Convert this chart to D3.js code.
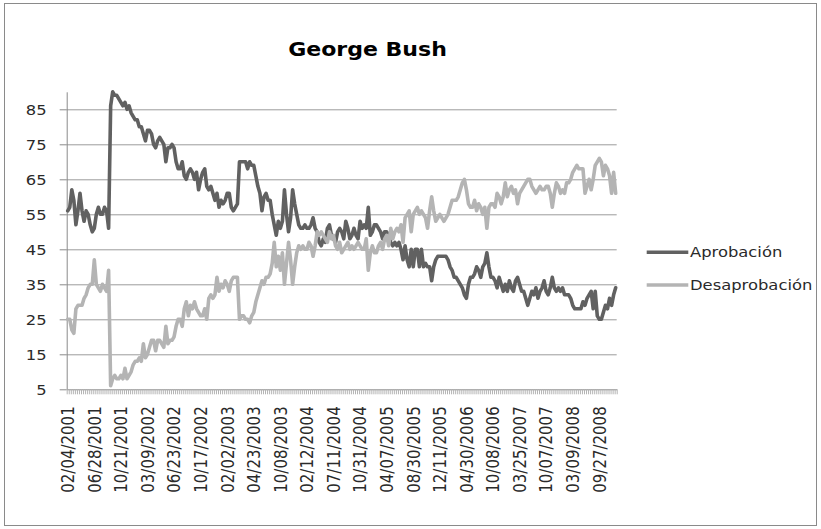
<!DOCTYPE html>
<html>
<head>
<meta charset="utf-8">
<script src="https://cdn.jsdelivr.net/npm/d3@7"></script>
<style>
  html, body { margin: 0; padding: 0; background: #fff; }
  svg { display: block; }
</style>
</head>
<body>
<svg id="chart" width="821" height="529"></svg>
<script>
// ---- data -------------------------------------------------------------
const chartTitle = "George Bush";
const seriesNames = ["Aprobación", "Desaprobación"];

// one label is shown every `labelStep` polls
const tickLabels = [
  "02/04/2001", "06/28/2001", "10/21/2001", "03/09/2002", "06/23/2002",
  "10/17/2002", "02/02/2003", "04/23/2003", "10/08/2003", "02/12/2004",
  "07/11/2004", "10/31/2004", "04/07/2005", "08/30/2005", "12/11/2005",
  "04/30/2006", "10/08/2006", "03/25/2007", "10/07/2007", "03/09/2008",
  "09/27/2008"
];
const labelStep = 13;

const yTicks = [5, 15, 25, 35, 45, 55, 65, 75, 85];

const aprobacion = [
  56, 57, 62, 59, 52, 56, 61, 56, 53, 56,
  55, 52, 50, 51, 55, 57, 55, 55, 57, 56,
  51, 86, 90, 89, 89, 88, 87, 86, 87, 85,
  86, 84, 83, 82, 82, 80, 80, 78, 76, 79,
  79, 78, 75, 74, 76, 77, 76, 75, 70, 74,
  74, 75, 74, 70, 68, 68, 70, 66, 65, 67,
  68, 67, 65, 67, 62, 65, 67, 68, 63, 62,
  63, 61, 59, 61, 57, 59, 58, 59, 61, 61,
  57, 56, 57, 58, 70, 70, 70, 70, 68, 70,
  69, 69, 66, 63, 61, 56, 60, 61, 59, 59,
  55, 52, 49, 53, 51, 53, 62, 55, 50, 54,
  62, 58, 55, 52, 51, 51, 52, 51, 51, 52,
  54, 51, 50, 47, 46, 48, 47, 51, 52, 49,
  48, 47, 50, 51, 50, 48, 53, 51, 48, 49,
  51, 49, 48, 53, 51, 52, 51, 57, 49, 50,
  52, 52, 51, 50, 48, 50, 50, 49, 47, 46,
  47, 46, 47, 45, 42, 46, 42, 40, 45, 40,
  45, 45, 40, 45, 40, 41, 40, 40, 36, 40,
  42, 43, 43, 43, 43, 43, 42, 40, 39, 37,
  37, 36, 35, 34, 32, 31, 35, 37, 37, 38,
  40, 39, 37, 40, 41, 44, 40, 37, 37, 36,
  34, 37, 35, 33, 35, 33, 36, 34, 33, 36,
  37, 35, 33, 33, 31, 29, 31, 33, 32, 34,
  31, 33, 34, 36, 33, 32, 34, 37, 34, 33,
  34, 33, 34, 32, 32, 32, 31, 29, 28, 28,
  28, 28, 30, 29, 31, 32, 33, 28, 33, 26,
  25, 25, 27, 29, 28, 31, 29, 32, 34
];

const desaprobacion = [
  25, 25, 22, 21, 28, 29, 29, 29, 31, 32,
  34, 35, 35, 42, 35, 34, 33, 35, 34, 33,
  39, 6, 8, 9, 8, 8, 9, 8, 11, 8,
  9, 10, 12, 13, 13, 14, 13, 18, 14, 15,
  17, 19, 19, 16, 19, 19, 18, 17, 23, 18,
  19, 19, 20, 23, 25, 25, 23, 28, 30, 26,
  29, 28, 30, 28, 27, 26, 26, 28, 25, 31,
  32, 31, 32, 37, 33, 35, 34, 36, 35, 33,
  36, 37, 37, 37, 25, 26, 26, 25, 25, 24,
  26, 27, 30, 32, 34, 36, 35, 37, 37, 38,
  41, 47, 40, 43, 39, 44, 35, 41, 47, 42,
  35, 40, 44, 46, 45, 46, 45, 45, 47, 46,
  43, 46, 50, 49, 50, 49, 48, 47, 50, 48,
  49, 46, 45, 47, 44, 45, 46, 47, 45, 46,
  45, 46, 47, 46, 45, 45, 48, 39, 44, 46,
  44, 44, 46, 47, 45, 48, 49, 46, 51, 48,
  50, 51, 50, 52, 47, 54, 55, 56, 50, 55,
  56, 57, 55, 56, 55, 54, 51, 56, 60, 56,
  53, 54, 55, 54, 53, 54, 55, 57, 59, 59,
  59, 60, 62, 64, 65, 62, 58, 57, 57, 59,
  56, 58, 57, 55, 57, 51, 57, 58, 58, 57,
  61, 60, 58, 60, 64, 60, 62, 63, 61, 62,
  58, 61, 62, 63, 64, 65, 65, 63, 62, 61,
  62, 63, 62, 62, 63, 63, 61, 57, 61, 64,
  63, 61, 62, 61, 64, 64, 65, 67, 68, 69,
  68, 68, 68, 61, 63, 65, 62, 65, 69, 70,
  71, 70, 66, 69, 68, 66, 61, 67, 61
];

// ---- layout -----------------------------------------------------------
const plot = { left: 66.7, right: 616.7, top: 91.8, bottom: 389.3 };
const seriesColors = ["#616161", "#b4b4b4"];
const font = "'DejaVu Sans', Verdana, sans-serif";
const textColor = "#2a2a2a";
const stretch = 1.17;          // text is drawn slightly widened
const lineWidth = 3.6;

const svg = d3.select("#chart");

// chart frame
svg.append("rect")
  .attr("x", 4.5).attr("y", 3.5)
  .attr("width", 812).attr("height", 522)
  .attr("fill", "#fff")
  .attr("stroke", "#8a8a8a").attr("stroke-width", 1);

const n = aprobacion.length;
const x = d3.scaleBand().domain(d3.range(n)).range([plot.left, plot.right]).padding(0);
const xEdge = d3.scaleLinear().domain([0, n]).range([plot.left, plot.right]);
const y = d3.scaleLinear().domain([5, 90]).range([plot.bottom, plot.top]);
const cx = i => x(i) + x.bandwidth() / 2;

// horizontal gridlines
svg.append("g")
  .attr("transform", `translate(${plot.left},0)`)
  .call(d3.axisLeft(y)
    .tickValues(yTicks.filter(v => v > 5))
    .tickSize(-(plot.right - plot.left))
    .tickFormat(""))
  .call(g => g.select(".domain").remove())
  .call(g => g.selectAll(".tick line").attr("stroke", "#9c9c9c"));

// value axis
const yAxis = svg.append("g")
  .attr("transform", `translate(${plot.left},0)`)
  .call(d3.axisLeft(y).tickValues(yTicks).tickSize(7).tickSizeOuter(0));
yAxis.select(".domain").attr("stroke", "#8a8a8a");
yAxis.selectAll(".tick line").attr("stroke", "#8a8a8a");
yAxis.selectAll(".tick text")
  .attr("x", 0).attr("dy", "0.36em")
  .attr("transform", `translate(-20,0) scale(${stretch},1)`)
  .attr("font-family", font).attr("font-size", 14).attr("fill", textColor);

// category axis: a tick mark between every poll
const xTickAxis = svg.append("g")
  .attr("transform", `translate(0,${plot.bottom})`)
  .call(d3.axisBottom(xEdge).tickValues(d3.range(n + 1)).tickSize(5).tickSizeOuter(0).tickFormat(""));
xTickAxis.select(".domain").attr("stroke", "#8a8a8a");
xTickAxis.selectAll(".tick line").attr("stroke", "#b3b3b3");

// category labels, rotated
const labelIdx = tickLabels.map((_, k) => k * labelStep);
const xLabelAxis = svg.append("g")
  .attr("transform", `translate(0,${plot.bottom})`)
  .call(d3.axisBottom(x).tickValues(labelIdx).tickSize(0)
    .tickFormat(i => tickLabels[i / labelStep]));
xLabelAxis.select(".domain").remove();
xLabelAxis.selectAll(".tick text")
  .attr("y", 0).attr("dy", "0.36em")
  .attr("text-anchor", "end")
  .attr("transform", `translate(0,17) scale(${stretch},1) rotate(-90)`)
  .attr("font-family", font).attr("font-size", 15).attr("fill", textColor);

// series lines
const line = d3.line()
  .x((d, i) => cx(i))
  .y(d => y(d));

[aprobacion, desaprobacion].forEach((values, k) => {
  svg.append("path")
    .attr("d", line(values))
    .attr("fill", "none")
    .attr("stroke", seriesColors[k])
    .attr("stroke-width", lineWidth)
    .attr("stroke-linejoin", "round")
    .attr("stroke-linecap", "round");
});

// legend
const legendRows = [252.3, 285];
const legend = svg.append("g");
seriesNames.forEach((name, k) => {
  legend.append("line")
    .attr("x1", 646.7).attr("x2", 688.3)
    .attr("y1", legendRows[k]).attr("y2", legendRows[k])
    .attr("stroke", seriesColors[k]).attr("stroke-width", lineWidth);
  legend.append("text")
    .attr("transform", `translate(690,${legendRows[k]}) scale(${stretch},1)`)
    .attr("dy", "0.36em")
    .attr("font-family", font).attr("font-size", 14)
    .attr("fill", textColor)
    .text(name);
});

// title
svg.append("text")
  .attr("transform", `translate(367.5,56) scale(1.16,1)`)
  .attr("text-anchor", "middle")
  .attr("font-family", font).attr("font-size", 19).attr("font-weight", "bold")
  .attr("fill", "#000")
  .text(chartTitle);
</script>
</body>
</html>
